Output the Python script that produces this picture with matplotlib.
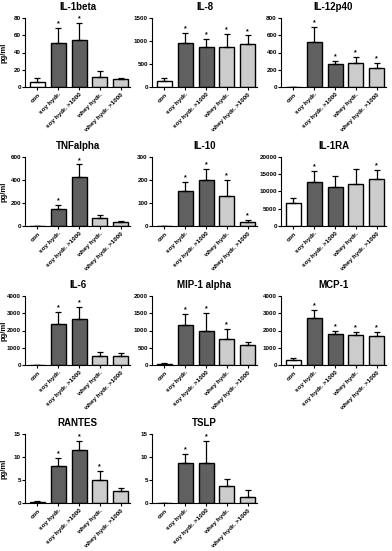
import numpy as np
import matplotlib
matplotlib.use("Agg")
import matplotlib.pyplot as plt

plt.rcParams['font.family'] = ['Liberation Sans', 'DejaVu Sans']
plt.rcParams['font.weight'] = 'bold'

groups = ['con', 'soy hydr.', 'soy hydr. >1000', 'whey hydr.', 'whey hydr. >1000']
bar_colors = ['white', '#606060', '#606060', '#cccccc', '#cccccc']

titles = ['IL-1beta', 'IL-8', 'IL-12p40',
          'TNFalpha', 'IL-10', 'IL-1RA',
          'IL-6', 'MIP-1 alpha', 'MCP-1',
          'RANTES', 'TSLP']

# mean values (pg/ml)
il1beta = [6, 51, 55, 12, 9.5]
il8 = [120, 960, 860, 860, 940]
il12p40 = [3, 520, 265, 280, 215]
tnfalpha = [0, 150, 425, 70, 35]
il10 = [0, 150, 200, 130, 18]
il1ra = [6700, 12700, 11300, 12300, 13600]
il6 = [0, 2380, 2650, 550, 530]
mip1a = [40, 1150, 990, 760, 580]
mcp1 = [280, 2750, 1780, 1730, 1700]
rantes = [0.3, 8.1, 11.5, 4.9, 2.7]
tslp = [0, 8.6, 8.7, 3.6, 1.4]

# upper error (SD)
il1beta_err = [4, 17, 19, 6, 1]
il8_err = [80, 210, 190, 290, 180]
il12p40_err = [0, 180, 35, 65, 60]
tnfalpha_err = [0, 30, 110, 25, 7]
il10_err = [0, 43, 48, 72, 7]
il1ra_err = [1300, 3300, 3200, 4200, 2700]
il6_err = [0, 670, 730, 200, 190]
mip1a_err = [20, 330, 510, 280, 100]
mcp1_err = [140, 450, 210, 170, 230]
rantes_err = [0.2, 1.6, 2.0, 2.0, 0.5]
tslp_err = [0, 2.0, 4.8, 1.7, 1.4]

# significance stars
il1beta_sig = [0, 1, 1, 0, 0]
il8_sig = [0, 1, 1, 1, 1]
il12p40_sig = [0, 1, 1, 1, 1]
tnfalpha_sig = [0, 1, 1, 0, 0]
il10_sig = [0, 1, 1, 1, 1]
il1ra_sig = [0, 1, 0, 0, 1]
il6_sig = [0, 1, 1, 0, 0]
mip1a_sig = [0, 1, 1, 1, 0]
mcp1_sig = [0, 1, 1, 1, 1]
rantes_sig = [0, 1, 1, 1, 0]
tslp_sig = [0, 1, 1, 0, 0]

y_max = [80, 1500, 800, 600, 300, 20000, 4000, 2000, 4000, 15, 15]
y_step = [20, 500, 200, 200, 100, 5000, 1000, 500, 1000, 5, 5]

means = [il1beta, il8, il12p40, tnfalpha, il10, il1ra, il6, mip1a, mcp1, rantes, tslp]
errs = [il1beta_err, il8_err, il12p40_err, tnfalpha_err, il10_err, il1ra_err,
        il6_err, mip1a_err, mcp1_err, rantes_err, tslp_err]
sigs = [il1beta_sig, il8_sig, il12p40_sig, tnfalpha_sig, il10_sig, il1ra_sig,
        il6_sig, mip1a_sig, mcp1_sig, rantes_sig, tslp_sig]

W, H = 392, 551
fig = plt.figure(figsize=(W / 100, H / 100), dpi=100)

col_left = [25, 152, 281]
row_bottom = [87, 226, 365, 503]
ax_w, ax_h = 105, 69

x = np.arange(len(groups))
for i, title in enumerate(titles):
    r, c = divmod(i, 3)
    left = col_left[c] / W
    bottom = 1 - row_bottom[r] / H
    ax = fig.add_axes([left, bottom, ax_w / W, ax_h / H])

    ax.bar(x, means[i], width=0.72, color=bar_colors, edgecolor='black',
           linewidth=1.0, zorder=2)
    ax.errorbar(x, means[i], yerr=[np.zeros(len(x)), errs[i]], fmt='none',
                ecolor='black', elinewidth=0.9, capsize=2.2, capthick=0.9, zorder=3)
    for k in range(len(x)):
        if sigs[i][k]:
            ax.text(x[k], means[i][k] + errs[i][k] + y_max[i] * 0.01, '*',
                    ha='center', va='bottom', fontsize=5, fontweight='bold')

    ax.set_xlim(-0.6, 4.45)
    ax.set_ylim(0, y_max[i])
    ax.set_yticks(np.arange(0, y_max[i] + y_step[i] / 2, y_step[i]))
    ax.set_xticks(x)
    ax.set_xticklabels(groups, rotation=45, ha='right', rotation_mode='anchor',
                       fontsize=4.6, fontweight='bold')
    ax.tick_params(axis='y', labelsize=4.5, length=2, width=0.8, pad=1)
    ax.tick_params(axis='x', length=2, width=0.8, pad=1.5)
    for lab in ax.get_yticklabels():
        lab.set_fontweight('bold')
    ax.spines['top'].set_visible(False)
    ax.spines['right'].set_visible(False)
    ax.spines['left'].set_linewidth(0.8)
    ax.spines['bottom'].set_linewidth(0.8)
    ax.set_title(title, fontsize=7, fontweight='bold', pad=6)
    if c == 0:
        ax.set_ylabel('pg/ml', fontsize=5.5, fontweight='bold')
        ax.yaxis.set_label_coords(-0.165, 0.5)

fig.savefig('out.png', dpi=100)
